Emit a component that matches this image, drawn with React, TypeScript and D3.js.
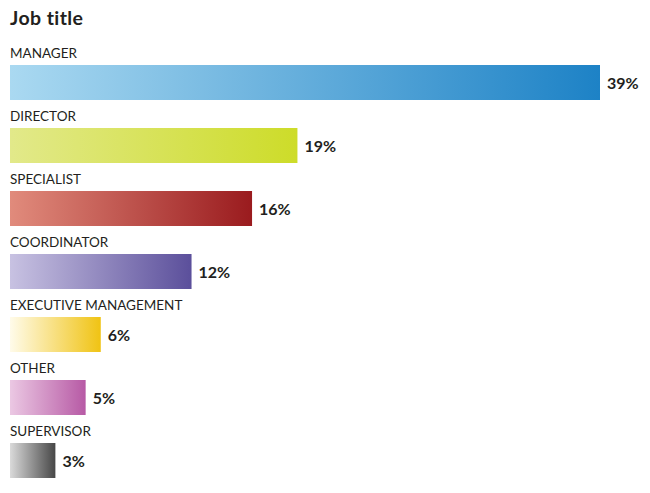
import React from 'react'
import * as d3 from 'd3'

const categories = ['MANAGER', 'DIRECTOR', 'SPECIALIST', 'COORDINATOR', 'EXECUTIVE MANAGEMENT', 'OTHER', 'SUPERVISOR']
const shares = [39, 19, 16, 12, 6, 5, 3]
const gradientStops: [string, string][] = [
  ['#aad9f1', '#1d82c6'],
  ['#e2e98a', '#cddc29'],
  ['#e18b7c', '#9a1b1e'],
  ['#c8c2e2', '#5b4f9b'],
  ['#fffbea', '#f0c313'],
  ['#ebc8e3', '#b75aa5'],
  ['#dadada', '#474747'],
]

const width = 650
const height = 493
const left = 10
const top = 32
const rowStep = 63

const App: React.FC = () => {
  const x = d3.scaleLinear().domain([0, 39]).range([0, 590])
  const y = d3.scaleBand<string>()
    .domain(categories)
    .range([top, top + rowStep * categories.length])
    .paddingInner(0)

  const font = 'Lato, "Noto Sans", sans-serif'

  return (
    <svg width={width} height={height} style={{ position: 'absolute', left: 0, top: 0, background: '#fff' }}>
      <defs>
        {gradientStops.map(([from, to], i) => (
          <linearGradient key={i} id={`grad-${i}`} x1="0" x2="1" y1="0" y2="0">
            <stop offset="0%" stopColor={from} />
            <stop offset="100%" stopColor={to} />
          </linearGradient>
        ))}
      </defs>
      <text x={10} y={25} fontFamily={font} fontWeight={700} fontSize={19.5} letterSpacing={0.4} fill="#231f20">Job title</text>
      {categories.map((c, i) => {
        const y0 = y(c) as number
        const barY = y0 + 33
        const barH = 35
        const w = x(shares[i])
        return (
          <g key={c}>
            <text x={left} y={y0 + 26} fontFamily={font} fontSize={13.5} fill="#231f20">{c}</text>
            <rect x={left} y={barY} width={w} height={barH} fill={`url(#grad-${i})`} />
            <text x={left + w + 7} y={barY + barH / 2 + 6} fontFamily={font} fontWeight={700} fontSize={16} fill="#231f20">
              {shares[i]}%
            </text>
          </g>
        )
      })}
    </svg>
  )
}

export default App
